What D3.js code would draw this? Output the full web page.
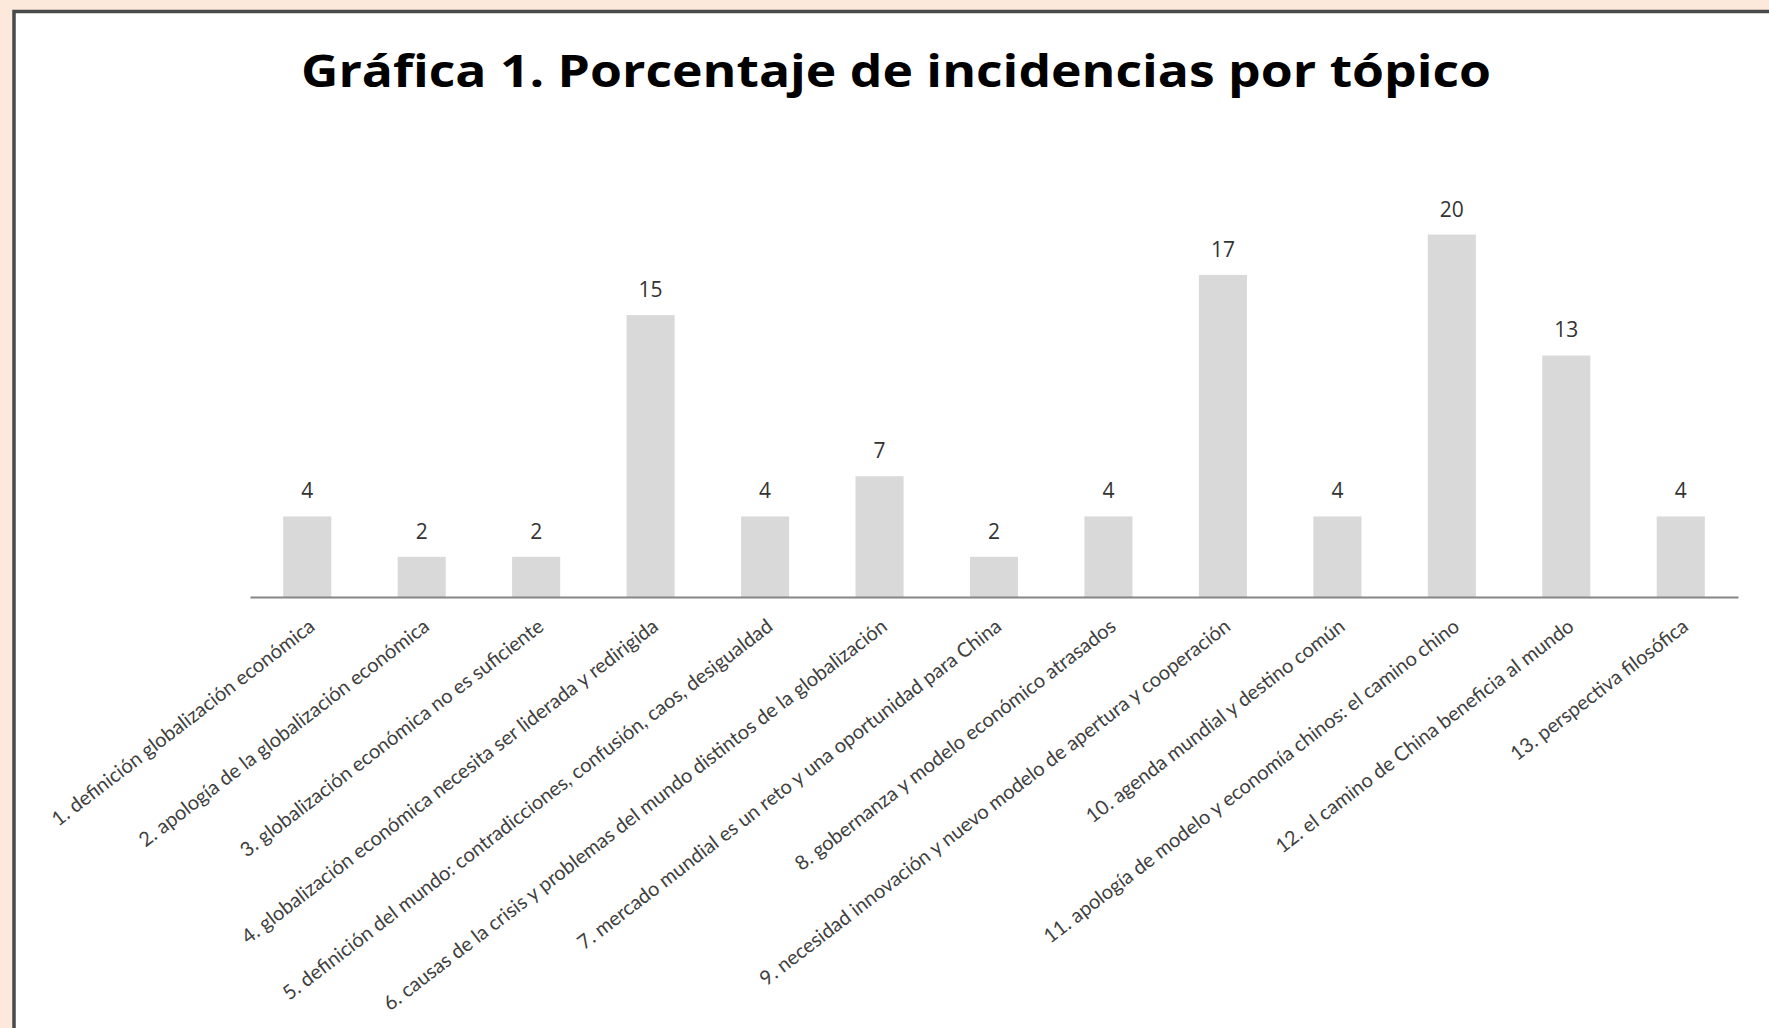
<!DOCTYPE html>
<html>
<head>
<meta charset="utf-8">
<script src="https://cdn.jsdelivr.net/npm/d3@7"></script>
<style>
  html, body { margin: 0; padding: 0; background: #fde9db; overflow: hidden; }
  svg { display: block; }
</style>
</head>
<body>
<script>
// topics on the x axis
var topics = [
  "1. definición globalización económica",
  "2. apología de la globalización económica",
  "3. globalización económica no es suficiente",
  "4. globalización económica necesita ser liderada y redirigida",
  "5. definición del mundo: contradicciones, confusión, caos, desigualdad",
  "6. causas de la crisis y problemas del mundo distintos de la globalización",
  "7. mercado mundial es un reto y una oportunidad para China",
  "8. gobernanza y modelo económico atrasados",
  "9. necesidad innovación y nuevo modelo de apertura y cooperación",
  "10. agenda mundial y destino común",
  "11. apología de modelo y economía chinos: el camino chino",
  "12. el camino de China beneficia al mundo",
  "13. perspectiva filosófica"
];

// percentage per topic
var percents = [4.35, 2.17, 2.17, 15.22, 4.35, 6.52, 2.17, 4.35, 17.39, 4.35, 19.57, 13.04, 4.35];

var title = "Gráfica 1. Porcentaje de incidencias por tópico";

var W = 1769, H = 1028;
var margin = {left: 250, right: 31, top: 134, bottom: 431};

var svg = d3.select("body").append("svg")
    .attr("width", W)
    .attr("height", H);

// white frame with dark border, running off right and bottom
svg.append("rect")
    .attr("x", 14)
    .attr("y", 11.5)
    .attr("width", W + 20)
    .attr("height", H + 20)
    .attr("fill", "#fff")
    .attr("stroke", "#4a4a4a")
    .attr("stroke-width", 3.5);

svg.append("text")
    .attr("x", 896)
    .attr("y", 87)
    .attr("text-anchor", "middle")
    .attr("font-family", "'Open Sans', sans-serif")
    .attr("font-weight", "bold")
    .attr("font-size", 44)
    .attr("fill", "#000")
    .attr("textLength", 1190)
    .attr("lengthAdjust", "spacingAndGlyphs")
    .text(title);

var x = d3.scaleBand()
    .domain(topics)
    .range([margin.left, W - margin.right])
    .paddingInner(0.58)
    .paddingOuter(0.29);

var y = d3.scaleLinear()
    .domain([0, 25])
    .range([H - margin.bottom, margin.top]);

var data = topics.map(function(t, i) { return {topic: t, value: percents[i]}; });

// bars
svg.append("g").selectAll("rect")
    .data(data)
  .enter().append("rect")
    .attr("x", function(d) { return x(d.topic); })
    .attr("y", function(d) { return y(d.value); })
    .attr("width", x.bandwidth())
    .attr("height", function(d) { return y(0) - y(d.value); })
    .attr("fill", "#d9d9d9");

// value labels
svg.append("g").selectAll("text")
    .data(data)
  .enter().append("text")
    .attr("x", function(d) { return x(d.topic) + x.bandwidth() / 2; })
    .attr("y", function(d) { return y(d.value) - 18; })
    .attr("text-anchor", "middle")
    .attr("font-family", "'Open Sans', sans-serif")
    .attr("font-size", 21)
    .attr("fill", "#333")
    .text(function(d) { return d3.format(".0f")(d.value); });

// x axis
var xAxis = svg.append("g")
    .attr("transform", "translate(0," + y(0) + ")")
    .call(d3.axisBottom(x).tickSize(0).tickPadding(0));

xAxis.select(".domain")
    .attr("stroke", "#868686")
    .attr("stroke-width", 2);

xAxis.selectAll(".tick text")
    .attr("font-family", "Lato, sans-serif")
    .attr("font-size", 20)
    .attr("fill", "#404040")
    .attr("text-anchor", "end")
    .attr("dy", 0)
    .attr("transform", "translate(9,32) rotate(-37.5)");
</script>
</body>
</html>
